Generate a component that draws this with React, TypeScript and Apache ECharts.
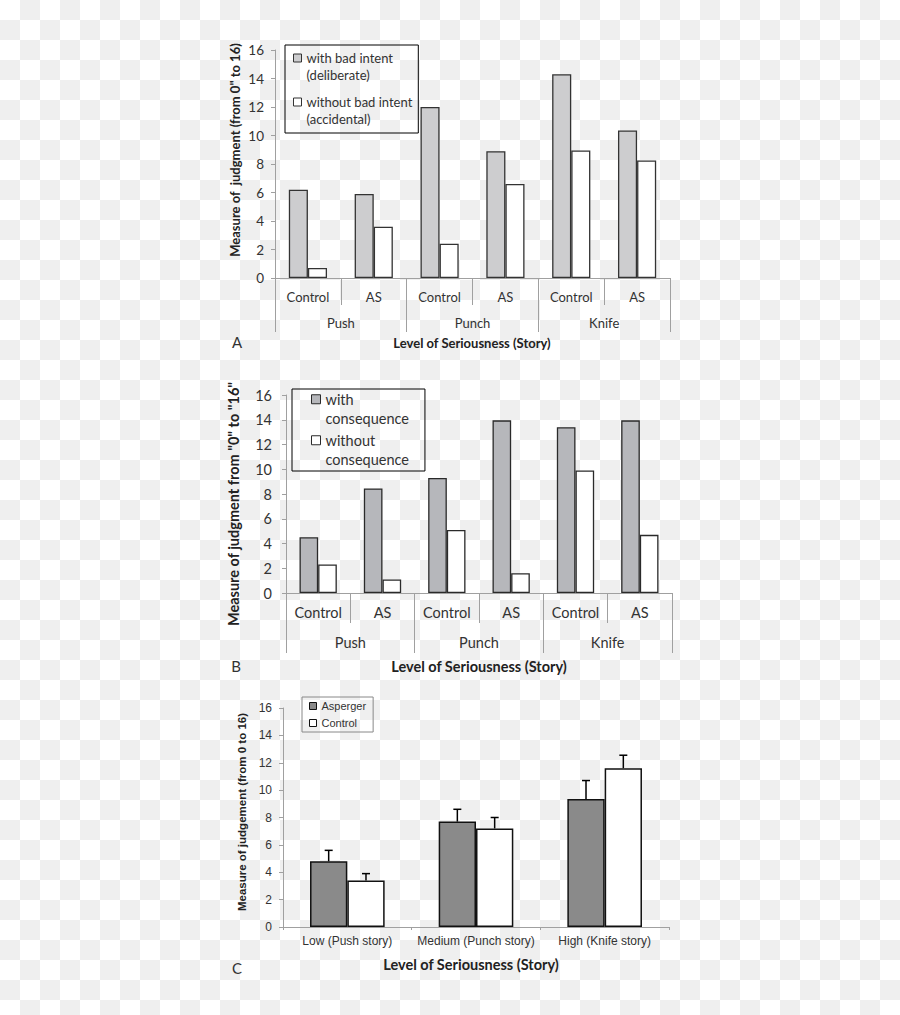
import React, { useEffect, useRef } from 'react';
import * as echarts from 'echarts';

// ---------- data ----------
const storyLabels = ['Push', 'Punch', 'Knife'];
const groupLabels = ['Control', 'AS', 'Control', 'AS', 'Control', 'AS'];
const yMin = 0;
const yMax = 16;
const yInterval = 2;

const aSeriesNames = ['with bad intent\n(deliberate)', 'without bad intent\n(accidental)'];
const aDeliberate = [6.2, 5.9, 12.0, 8.9, 14.3, 10.35];
const aAccidental = [0.7, 3.6, 2.4, 6.6, 8.95, 8.25];

const bSeriesNames = ['with\nconsequence', 'without\nconsequence'];
const bWith = [4.5, 8.45, 9.3, 13.95, 13.4, 13.95];
const bWithout = [2.3, 1.1, 5.1, 1.6, 9.9, 4.7];

const cCategories = ['Low (Push story)', 'Medium (Punch story)', 'High (Knife story)'];
const cSeriesNames = ['Asperger', 'Control'];
const cAsperger = [4.8, 7.7, 9.35];
const cControl = [3.4, 7.2, 11.6];
const cAspergerErr = [0.8, 0.9, 1.35];
const cControlErr = [0.5, 0.8, 0.95];

const xTitle = 'Level of Seriousness (Story)';
const aYTitle = 'Measure of  judgment (from 0" to 16)';
const bYTitle = 'Measure of judgment from "0" to "16"';
const cYTitle = 'Measure of judgement (from 0 to 16)';

// ---------- style ----------
const CAL = 'Lato, "Open Sans", sans-serif';
const ARIAL = '"Liberation Sans", Arial, sans-serif';
const AXIS_GRAY = '#a0a0a0';
const TEXT = '#333333';
const BAR_FRAC = 0.29;

function legendIcon(s: number, h: number, lh: number) {
  const y0 = lh / 2 - s / 2;
  return `path://M0,0L0,0M${s},${h}L${s},${h}M0,${y0}h${s}v${s}h${-s}Z`;
}

function valueAxis(gridIndex: number, margin: number, fontSize: number, family: string) {
  return {
    type: 'value',
    gridIndex,
    min: yMin,
    max: yMax,
    interval: yInterval,
    axisLine: { show: true, lineStyle: { color: AXIS_GRAY, width: 1 } },
    axisTick: { show: true, length: 4, lineStyle: { color: AXIS_GRAY } },
    axisLabel: { margin, fontSize, fontFamily: family, color: TEXT },
    splitLine: { show: false },
  };
}

function catAxis(gridIndex: number, data: string[], tickLen: number, margin: number, fontSize: number, family: string) {
  return {
    type: 'category',
    gridIndex,
    data,
    position: 'bottom',
    axisLine: { show: true, onZero: false, lineStyle: { color: AXIS_GRAY, width: 1 } },
    axisTick: { show: true, length: tickLen, interval: 0, lineStyle: { color: AXIS_GRAY } },
    axisLabel: { interval: 0, margin, fontSize, fontFamily: family, color: TEXT },
    splitLine: { show: false },
  };
}

function barSeries(name: string, data: number[], xi: number, yi: number, color: string, border: string, bw: number) {
  return {
    type: 'bar',
    name,
    data,
    xAxisIndex: xi,
    yAxisIndex: yi,
    barWidth: `${BAR_FRAC * 100}%`,
    barGap: '0%',
    itemStyle: { color, borderColor: border, borderWidth: bw },
  };
}

function errorSeries(values: number[], errs: number[], side: number) {
  return {
    type: 'custom',
    xAxisIndex: 4,
    yAxisIndex: 2,
    z: 5,
    data: values.map((v, i) => [i, v, errs[i]]),
    renderItem: (params: any, api: any) => {
      const x = api.value(0);
      const v = api.value(1);
      const e = api.value(2);
      const base = api.coord([x, v]);
      const top = api.coord([x, v + e]);
      const band = api.size([1, 0])[0];
      const bw = band * BAR_FRAC;
      const cx = base[0] + (side * bw) / 2;
      const cap = 4;
      const st = { stroke: '#000', lineWidth: 1.5 };
      return {
        type: 'group',
        children: [
          { type: 'line', shape: { x1: cx, y1: base[1], x2: cx, y2: top[1] }, style: st },
          { type: 'line', shape: { x1: cx - cap, y1: top[1], x2: cx + cap, y2: top[1] }, style: st },
        ],
      };
    },
  };
}

function txt(text: string, x: number, y: number, font: string, rotation = 0, fill = TEXT) {
  return {
    type: 'text',
    x,
    y,
    rotation,
    style: { text, font, fill, align: 'center', verticalAlign: 'middle' },
  };
}

export default function App() {
  const ref = useRef<HTMLDivElement>(null);
  useEffect(() => {
    if (!ref.current) return;
    const chart = echarts.init(ref.current, undefined, { renderer: 'svg' });
    const option: any = {
      animation: false,
      grid: [
        { left: 275, top: 50, width: 395, height: 228, containLabel: false },
        { left: 286, top: 395, width: 386, height: 198, containLabel: false },
        { left: 283, top: 708, width: 386, height: 219, containLabel: false },
      ],
      xAxis: [
        catAxis(0, groupLabels, 27, 12, 13, CAL),
        catAxis(0, storyLabels, 54, 38, 13, CAL),
        catAxis(1, groupLabels, 30, 12, 14.5, CAL),
        catAxis(1, storyLabels, 60, 42, 14.5, CAL),
        catAxis(2, cCategories, 3, 8, 12, ARIAL),
      ],
      yAxis: [valueAxis(0, 11, 13.5, CAL), valueAxis(1, 14, 14.5, CAL), valueAxis(2, 11, 12, ARIAL)],
      legend: [
        {
          data: aSeriesNames,
          orient: 'vertical',
          left: 285,
          top: 45,
          padding: [4, 6, 5, 8],
          borderColor: '#000',
          borderWidth: 1,
          itemWidth: 8,
          itemHeight: 34,
          itemGap: 9,
          icon: legendIcon(8, 34, 17),
          itemStyle: { borderWidth: 1 },
          textStyle: { fontSize: 13, lineHeight: 17, fontFamily: CAL, color: TEXT },
        },
        {
          data: bSeriesNames,
          orient: 'vertical',
          left: 292,
          top: 389,
          padding: [0, 16, 1, 19],
          borderColor: '#000',
          borderWidth: 1,
          itemWidth: 9,
          itemHeight: 39,
          itemGap: 1,
          icon: legendIcon(9, 39, 19.5),
          itemStyle: { borderWidth: 1 },
          textStyle: { fontSize: 14.5, lineHeight: 19.5, fontFamily: CAL, color: TEXT },
        },
        {
          data: cSeriesNames,
          orient: 'vertical',
          left: 302,
          top: 697,
          padding: [2, 7, 2, 7],
          borderColor: '#888',
          borderWidth: 1,
          itemWidth: 7,
          itemHeight: 7,
          itemGap: 3,
          icon: 'rect',
          itemStyle: { borderWidth: 1 },
          textStyle: { fontSize: 11, lineHeight: 14, fontFamily: ARIAL, color: TEXT },
        },
      ],
      series: [
        barSeries(aSeriesNames[0], aDeliberate, 0, 0, '#cdcdcf', '#333', 1.3),
        barSeries(aSeriesNames[1], aAccidental, 0, 0, '#ffffff', '#333', 1.3),
        barSeries(bSeriesNames[0], bWith, 2, 1, '#b6b7bb', '#2a2a2a', 1.3),
        barSeries(bSeriesNames[1], bWithout, 2, 1, '#ffffff', '#2a2a2a', 1.3),
        barSeries(cSeriesNames[0], cAsperger, 4, 2, '#8a8a8a', '#111', 1.5),
        barSeries(cSeriesNames[1], cControl, 4, 2, '#ffffff', '#111', 1.5),
        errorSeries(cAsperger, cAspergerErr, -1),
        errorSeries(cControl, cControlErr, 1),
      ],
      graphic: [
        txt(aYTitle, 235, 150, `bold 13px ${CAL}`, Math.PI / 2, '#222'),
        txt(xTitle, 472, 343, `bold 13px ${CAL}`, 0, '#222'),
        txt('A', 237, 342, `15px ${CAL}`),
        txt(bYTitle, 233, 504, `bold 14.5px ${CAL}`, Math.PI / 2, '#222'),
        txt(xTitle, 479, 666, `bold 14.5px ${CAL}`, 0, '#222'),
        txt('B', 236, 666, `15px ${CAL}`),
        txt(cYTitle, 242, 812, `bold 11.5px ${ARIAL}`, Math.PI / 2, '#222'),
        txt(xTitle, 471, 964, `bold 14.5px ${CAL}`, 0, '#222'),
        txt('C', 237, 968, `15px ${CAL}`),
      ],
    };
    chart.setOption(option);
    return () => chart.dispose();
  }, []);
  return (
    <div
      ref={ref}
      style={{
        position: 'absolute',
        left: 0,
        top: 0,
        width: 900,
        height: 1015,
        backgroundColor: '#ffffff',
        backgroundImage: 'repeating-conic-gradient(#efefef 0% 25%, #ffffff 0% 50%)',
        backgroundSize: '40px 40px',
      }}
    />
  );
}
